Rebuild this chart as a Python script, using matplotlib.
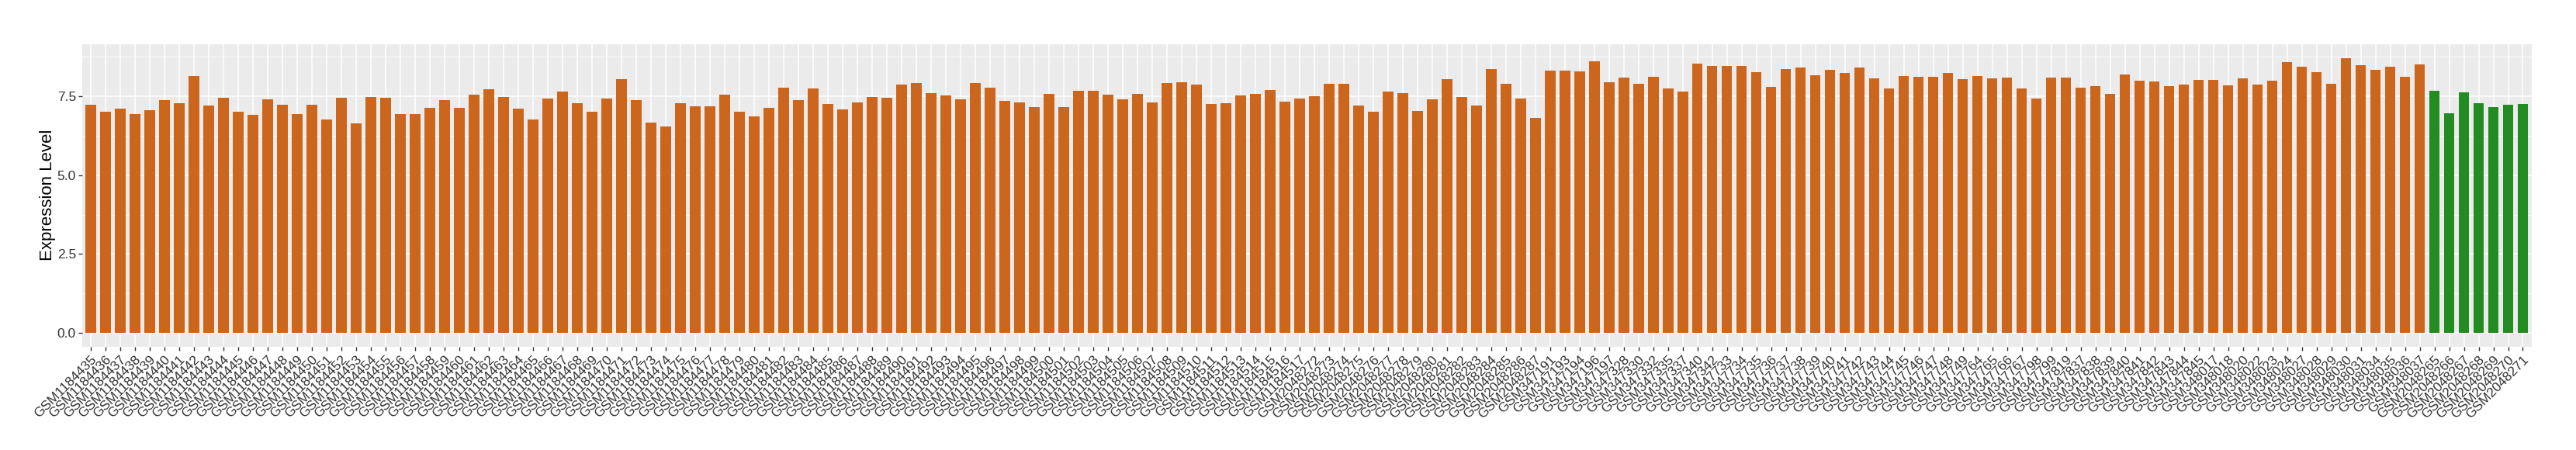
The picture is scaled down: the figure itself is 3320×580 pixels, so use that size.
import matplotlib
matplotlib.use("Agg")
import matplotlib.pyplot as plt
from matplotlib.ticker import FixedLocator

plt.rcParams['font.family'] = ['Liberation Sans', 'DejaVu Sans']

samples_a = [f"GSM{n}" for n in range(1184435, 1184518)]
samples_b = [f"GSM{n}" for n in range(2048272, 2048288)]
samples_c = ["GSM347191", "GSM347193", "GSM347194", "GSM347196", "GSM347197",
             "GSM347328", "GSM347330", "GSM347332", "GSM347335", "GSM347337",
             "GSM347340", "GSM347342"] + [f"GSM{n}" for n in range(347733, 347750)] + \
            ["GSM347764", "GSM347765", "GSM347766", "GSM347767", "GSM347798",
             "GSM347799", "GSM347819"] + [f"GSM{n}" for n in range(347837, 347846)] + \
            ["GSM348017", "GSM348018", "GSM348020", "GSM348022", "GSM348023",
             "GSM348024", "GSM348027", "GSM348028", "GSM348029", "GSM348030",
             "GSM348031", "GSM348034", "GSM348035", "GSM348036", "GSM348037"]
samples_green = [f"GSM{n}" for n in range(2048265, 2048272)]

values_orange = [
    7.24, 7.02, 7.11, 6.94, 7.06, 7.39, 7.29, 8.15, 7.21, 7.46,
    7.02, 6.92, 7.41, 7.24, 6.94, 7.24, 6.77, 7.46, 6.65, 7.48,
    7.46, 6.94, 6.94, 7.14, 7.39, 7.14, 7.56, 7.73, 7.48, 7.11,
    6.77, 7.43, 7.66, 7.29, 7.02, 7.43, 8.05, 7.39, 6.67, 6.55,
    7.29, 7.19, 7.19, 7.56, 7.02, 6.87, 7.14, 7.78, 7.39, 7.75,
    7.26, 7.09, 7.31, 7.48, 7.46, 7.88, 7.93, 7.61, 7.53, 7.41,
    7.93, 7.78, 7.36, 7.31, 7.16, 7.58, 7.16, 7.68, 7.68, 7.56,
    7.41, 7.58, 7.31, 7.93, 7.95, 7.88, 7.26, 7.29, 7.53, 7.58,
    7.71, 7.34, 7.43, 7.51, 7.90, 7.90, 7.21, 7.02, 7.66, 7.61,
    7.04, 7.41, 8.05, 7.48, 7.21, 8.37, 7.90, 7.43, 6.82, 8.32,
    8.32, 8.30, 8.62, 7.95, 8.10, 7.90, 8.12, 7.75, 7.66, 8.54,
    8.47, 8.47, 8.47, 8.27, 7.80, 8.37, 8.42, 8.17, 8.35, 8.25,
    8.42, 8.07, 7.75, 8.15, 8.12, 8.12, 8.25, 8.05, 8.15, 8.07,
    8.10, 7.75, 7.43, 8.10, 8.10, 7.78, 7.83, 7.58, 8.20, 8.00,
    7.98, 7.83, 7.88, 8.03, 8.03, 7.85, 8.07, 7.88, 8.00, 8.59,
    8.44, 8.27, 7.90, 8.72, 8.49, 8.35, 8.44, 8.12, 8.52,
]
values_green = [7.68, 6.97, 7.63, 7.29, 7.16, 7.24, 7.26]

orange = "#CD661D"
green = "#228B22"

labels = samples_a + samples_b + samples_c + samples_green
values = values_orange + values_green
colors = [orange] * len(values_orange) + [green] * len(values_green)

fig = plt.figure(figsize=(33.2, 5.8), dpi=100)
ax = fig.add_axes([0.0318, 0.230, 0.951, 0.672])
ax.set_facecolor("#EBEBEB")

x = list(range(len(values)))
ax.bar(x, values, width=0.72, color=colors, zorder=3)

ax.set_xlim(-0.6, len(values) - 0.4)
vmax = max(values)
ax.set_ylim(-0.05 * vmax, 1.05 * vmax)

ax.yaxis.set_major_locator(FixedLocator([0, 2.5, 5.0, 7.5]))
ax.yaxis.set_minor_locator(FixedLocator([1.25, 3.75, 6.25, 8.75]))
ax.set_yticklabels(["0.0", "2.5", "5.0", "7.5"])
ax.set_xticks(x)
ax.set_xticklabels(labels, rotation=45, ha="right", rotation_mode="anchor")

ax.grid(which="major", color="white", linewidth=1.1, zorder=0)
ax.grid(which="minor", axis="y", color="white", linewidth=0.55, zorder=0)
for s in ax.spines.values():
    s.set_visible(False)

ax.tick_params(axis="both", which="major", length=3.5, width=1.0, color="#333333",
               labelcolor="#333333", labelsize=12.5, pad=2)
ax.tick_params(axis="y", which="minor", length=0)
ax.tick_params(axis="x", pad=3)

ax.set_ylabel("Expression Level", fontsize=16, color="black")
ax.yaxis.set_label_coords(-0.0105, 0.5)

fig.savefig("out.png", dpi=100, facecolor="white")
